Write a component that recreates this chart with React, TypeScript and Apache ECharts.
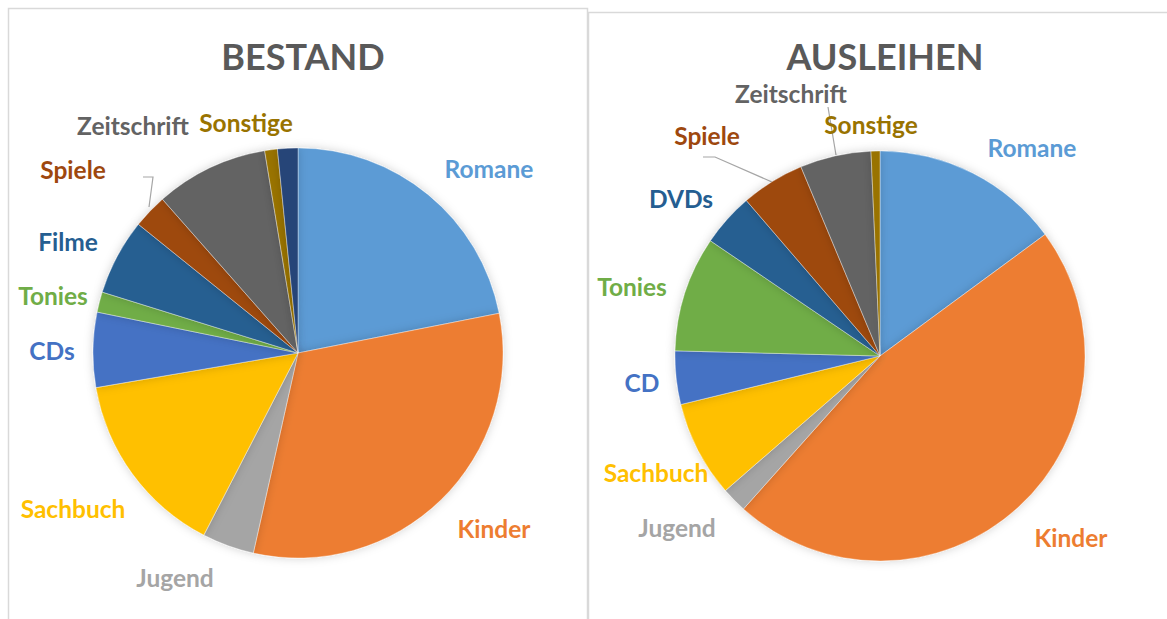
import React, { useEffect, useRef } from "react";
import * as echarts from "echarts";

const bestandCategories = ["Romane", "Kinder", "Jugend", "Sachbuch", "CDs", "Tonies", "Filme", "Spiele", "Zeitschrift", "Sonstige", ""];
const bestandValues = [21.9, 31.6, 4.1, 14.7, 5.9, 1.6, 6.0, 2.7, 8.9, 1.0, 1.6];
const bestandColors = ["#5B9BD5", "#ED7D31", "#A5A5A5", "#FFC000", "#4472C4", "#70AD47", "#255E91", "#9E480E", "#636363", "#997300", "#264478"];

const ausleihenCategories = ["Romane", "Kinder", "Jugend", "Sachbuch", "CD", "Tonies", "DVDs", "Spiele", "Zeitschrift", "Sonstige"];
const ausleihenValues = [14.9, 46.7, 2.0, 7.6, 4.2, 9.1, 4.2, 5.0, 5.6, 0.7];
const ausleihenColors = ["#5B9BD5", "#ED7D31", "#A5A5A5", "#FFC000", "#4472C4", "#70AD47", "#255E91", "#9E480E", "#636363", "#997300"];

// label placement (layout only)
const bestandLabelPos: [number, number][] = [
  [489, 168], [494, 528], [175, 577], [73, 508], [52, 350], [53, 295], [68, 241], [73, 169], [133, 125], [246, 122], [0, 0],
];
const ausleihenLabelPos: [number, number][] = [
  [1032, 147], [1071, 537], [677, 527], [656, 472], [642, 382], [632, 286], [681, 198], [707, 135], [791, 93], [871, 124],
];
// leader lines (layout only)
const bestandLeaders: Record<number, [number, number][]> = {
  7: [[143, 177], [153, 177], [149, 207]],
};
const ausleihenLeaders: Record<number, [number, number][]> = {
  7: [[703, 157], [715, 157], [772, 182]],
  8: [[828, 107], [828, 107], [836, 155]],
};

const FONT = "Lato, 'Open Sans', sans-serif";

function buildData(names: string[], values: number[], colors: string[], leaders: Record<number, any>) {
  return names.map((n, i) => ({
    name: n,
    value: values[i],
    itemStyle: { color: colors[i] },
    label: { show: n !== "", color: colors[i] },
    labelLine: { show: !!leaders[i] },
  }));
}

export default function App() {
  const ref = useRef<HTMLDivElement>(null);
  useEffect(() => {
    if (!ref.current) return;
    const chart = echarts.init(ref.current, null, { renderer: "svg" });
    const labelCommon = {
      position: "outside" as const,
      formatter: "{b}",
      fontFamily: FONT,
      fontWeight: "bold" as const,
      fontSize: 24.5,
    };
    const itemStyleCommon = {
      borderColor: "rgba(255,255,255,0.6)",
      borderWidth: 0.6,
      shadowBlur: 10,
      shadowColor: "rgba(0,0,0,0.18)",
    };
    const makeLayout = (positions: [number, number][], leaders: Record<number, [number, number][]>) => (p: any) => {
      const pos = positions[p.dataIndex];
      const out: any = { x: pos[0], y: pos[1], align: "center", verticalAlign: "middle" };
      if (leaders[p.dataIndex]) out.labelLinePoints = leaders[p.dataIndex];
      return out;
    };
    const titleStyle = { fontFamily: FONT, fontWeight: "bold", fontSize: 36, lineHeight: 30, color: "#595959" };
    chart.setOption({
      animation: false,
      backgroundColor: "#ffffff",
      title: [
        { text: "BESTAND", left: 298, top: 36, textAlign: "center", textStyle: titleStyle },
        { text: "AUSLEIHEN", left: 880, top: 36, textAlign: "center", textStyle: titleStyle },
      ],
      graphic: [
        { type: "rect", shape: { x: 8.5, y: 8.5, width: 579, height: 640 }, style: { fill: "none", stroke: "#d9d9d9", lineWidth: 1.5 }, z: -10 },
        { type: "rect", shape: { x: 588.5, y: 12.5, width: 600, height: 640 }, style: { fill: "none", stroke: "#d9d9d9", lineWidth: 1.5 }, z: -10 },
      ],
      series: [
        {
          type: "pie",
          center: [298, 353],
          radius: 205,
          startAngle: 90,
          clockwise: true,
          avoidLabelOverlap: false,
          label: labelCommon,
          labelLine: { length: 8, length2: 8, lineStyle: { color: "#a6a6a6", width: 1.2 } },
          itemStyle: itemStyleCommon,
          emphasis: { disabled: true },
          labelLayout: makeLayout(bestandLabelPos, bestandLeaders),
          data: buildData(bestandCategories, bestandValues, bestandColors, bestandLeaders),
        },
        {
          type: "pie",
          center: [880, 356],
          radius: 205,
          startAngle: 90,
          clockwise: true,
          avoidLabelOverlap: false,
          label: labelCommon,
          labelLine: { length: 8, length2: 8, lineStyle: { color: "#a6a6a6", width: 1.2 } },
          itemStyle: itemStyleCommon,
          emphasis: { disabled: true },
          labelLayout: makeLayout(ausleihenLabelPos, ausleihenLeaders),
          data: buildData(ausleihenCategories, ausleihenValues, ausleihenColors, ausleihenLeaders),
        },
      ],
    });
    return () => chart.dispose();
  }, []);
  return (
    <div
      ref={ref}
      style={{ position: "fixed", left: 0, top: 0, width: 1167, height: 619, background: "#fff" }}
    />
  );
}
